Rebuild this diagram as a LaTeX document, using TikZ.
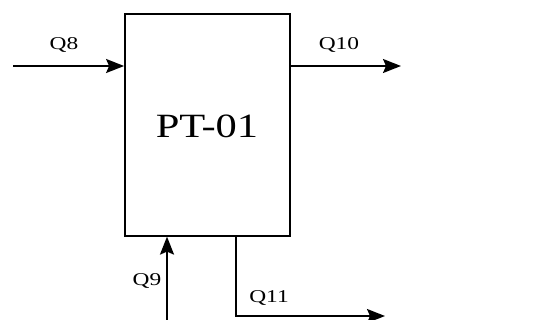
\documentclass[tikz,border=0pt]{standalone}
\usepackage{fontspec}
\setmainfont{Liberation Serif}
\usetikzlibrary{arrows.meta,positioning}

\begin{document}
\begin{tikzpicture}[>={Stealth[length=18pt,width=14pt,inset=3pt]},x=1pt,y=-1pt,line width=1.8pt,
 lbl/.style={font=\fontsize{18}{18}\selectfont,xscale=1.3,transform shape}]
\useasboundingbox (0,0) rectangle (543,320);
\node[draw,minimum width=165pt,minimum height=222pt,inner sep=0pt] (pt) at (207.5,124.7) {};
\node[font=\fontsize{34}{34}\selectfont,xscale=1.25,transform shape] (name) at (207,126) {PT-01};
% streams
\coordinate (q8s) at (13,66);
\coordinate (q10e) at (401,66);
\coordinate (q9s) at (167,320);
\coordinate (q11e) at (385,316);
\draw[->] (q8s) -- (q8s -| pt.west);
\draw[->] (q8s -| pt.east) -- (q10e);
\draw[->] (q9s) -- (q9s |- pt.south);
\draw[->] (pt.south -| 236,0) |- (q11e);
\node[lbl] (q8) at (64,45) {Q8};
\node[lbl] (q10) at (339,45) {Q10};
\node[lbl] (q9) at (147,281) {Q9};
\node[lbl] (q11) at (269,298) {Q11};
\end{tikzpicture}
\end{document}
